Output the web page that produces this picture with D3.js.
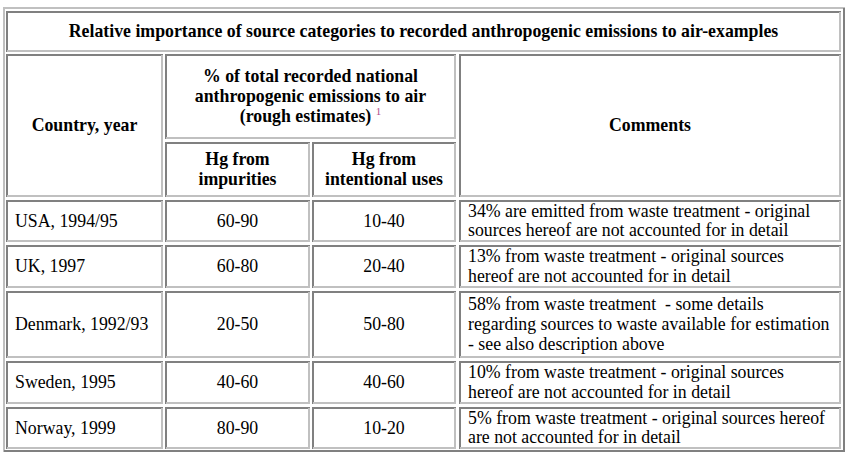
<!DOCTYPE html>
<html>
<head>
<meta charset="utf-8">
<script src="https://cdn.jsdelivr.net/npm/d3@7"></script>
<style>
html,body{margin:0;padding:0;background:#fff;}
svg{display:block;}
text{font-family:"Liberation Serif","Times New Roman",serif;font-size:17.8px;fill:#000;}
</style>
</head>
<body>
<svg id="chart" width="849" height="461"></svg>
<script>
// ---- data ----
const title = "Relative importance of source categories to recorded anthropogenic emissions to air-examples";
const headerCountry = "Country, year";
const headerShare = ["% of total recorded national", "anthropogenic emissions to air", "(rough estimates)"];
const footnoteMark = "1";
const headerImpurities = ["Hg from", "impurities"];
const headerIntentional = ["Hg from", "intentional uses"];
const headerComments = "Comments";
const countries = ["USA, 1994/95", "UK, 1997", "Denmark, 1992/93", "Sweden, 1995", "Norway, 1999"];
const impurities = ["60-90", "60-80", "20-50", "40-60", "80-90"];
const intentional = ["10-40", "20-40", "50-80", "40-60", "10-20"];
const comments = [
  ["34% are emitted from waste treatment - original", "sources hereof are not accounted for in detail"],
  ["13% from waste treatment - original sources", "hereof are not accounted for in detail"],
  ["58% from waste treatment  - some details", "regarding sources to waste available for estimation", "- see also description above"],
  ["10% from waste treatment - original sources", "hereof are not accounted for in detail"],
  ["5% from waste treatment - original sources hereof", "are not accounted for in detail"]
];

// ---- layout ----
const dark = "#808080", light = "#c0c0c0";
const colL = [6, 165, 312, 459];
const colR = [163, 310, 456, 841];
const rowT = [11, 54, 142, 200, 245, 291, 361, 407];
const rowB = [52, 139, 197, 242, 288, 358, 404, 449];
const LH = 19.8, base = 5.5;

const svg = d3.select("#chart");
svg.append("rect").attr("width", 849).attr("height", 461).attr("fill", "#fff");

// outer table border (outset)
const T = {x0: 3, y0: 7, x1: 845, y1: 452};
const g0 = svg.append("g");
g0.append("rect").attr("x", T.x0).attr("y", T.y0).attr("width", T.x1 - T.x0).attr("height", 2).attr("fill", light);
g0.append("rect").attr("x", T.x0).attr("y", T.y0).attr("width", 2).attr("height", T.y1 - T.y0).attr("fill", light);
g0.append("rect").attr("x", T.x0 + 1).attr("y", T.y1 - 2).attr("width", T.x1 - T.x0 - 1).attr("height", 2).attr("fill", dark);
g0.append("rect").attr("x", T.x1 - 2).attr("y", T.y0 + 1).attr("width", 2).attr("height", T.y1 - T.y0 - 1).attr("fill", dark);

const cells = [];
cells.push({c0: 0, c1: 3, r0: 0, r1: 0, lines: [title], bold: true, align: "middle"});
cells.push({c0: 0, c1: 0, r0: 1, r1: 2, lines: [headerCountry], bold: true, align: "middle"});
cells.push({c0: 1, c1: 2, r0: 1, r1: 1, lines: headerShare, bold: true, align: "middle", sup: footnoteMark});
cells.push({c0: 3, c1: 3, r0: 1, r1: 2, lines: [headerComments], bold: true, align: "middle"});
cells.push({c0: 1, c1: 1, r0: 2, r1: 2, lines: headerImpurities, bold: true, align: "middle"});
cells.push({c0: 2, c1: 2, r0: 2, r1: 2, lines: headerIntentional, bold: true, align: "middle"});
countries.forEach((c, i) => {
  const r = 3 + i;
  cells.push({c0: 0, c1: 0, r0: r, r1: r, lines: [c], align: "start"});
  cells.push({c0: 1, c1: 1, r0: r, r1: r, lines: [impurities[i]], align: "middle"});
  cells.push({c0: 2, c1: 2, r0: r, r1: r, lines: [intentional[i]], align: "middle"});
  cells.push({c0: 3, c1: 3, r0: r, r1: r, lines: comments[i], align: "start"});
});
cells.forEach(d => {
  d.x0 = colL[d.c0]; d.x1 = colR[d.c1]; d.y0 = rowT[d.r0]; d.y1 = rowB[d.r1];
});

const cg = svg.append("g").selectAll("g").data(cells).join("g");
cg.append("rect").attr("x", d => d.x0).attr("y", d => d.y0).attr("width", d => d.x1 - d.x0).attr("height", 2).attr("fill", dark);
cg.append("rect").attr("x", d => d.x0).attr("y", d => d.y0).attr("width", 2).attr("height", d => d.y1 - d.y0).attr("fill", dark);
cg.append("rect").attr("x", d => d.x0 + 1).attr("y", d => d.y1 - 2).attr("width", d => d.x1 - d.x0 - 1).attr("height", 2).attr("fill", light);
cg.append("rect").attr("x", d => d.x1 - 2).attr("y", d => d.y0 + 1).attr("width", 2).attr("height", d => d.y1 - d.y0 - 1).attr("fill", light);

cg.each(function(d) {
  const g = d3.select(this);
  const cy = (d.y0 + d.y1) / 2;
  const n = d.lines.length;
  const x = d.align === "middle" ? (d.x0 + d.x1) / 2 : d.x0 + 9;
  d.lines.forEach((line, i) => {
    const t = g.append("text")
      .attr("x", x)
      .attr("y", cy - (n - 1) * LH / 2 + i * LH + base)
      .attr("text-anchor", d.align)
      .attr("font-weight", d.bold ? "bold" : "normal")
      .style("white-space", "pre")
      .text(line);
    if (d.sup && i === n - 1) {
      t.append("tspan").text("\u00a0");
      t.append("tspan").attr("font-size", 11).attr("font-weight", "normal")
        .attr("dy", -7).attr("fill", "#b0508a").text(d.sup);
    }
  });
});
</script>
</body>
</html>
